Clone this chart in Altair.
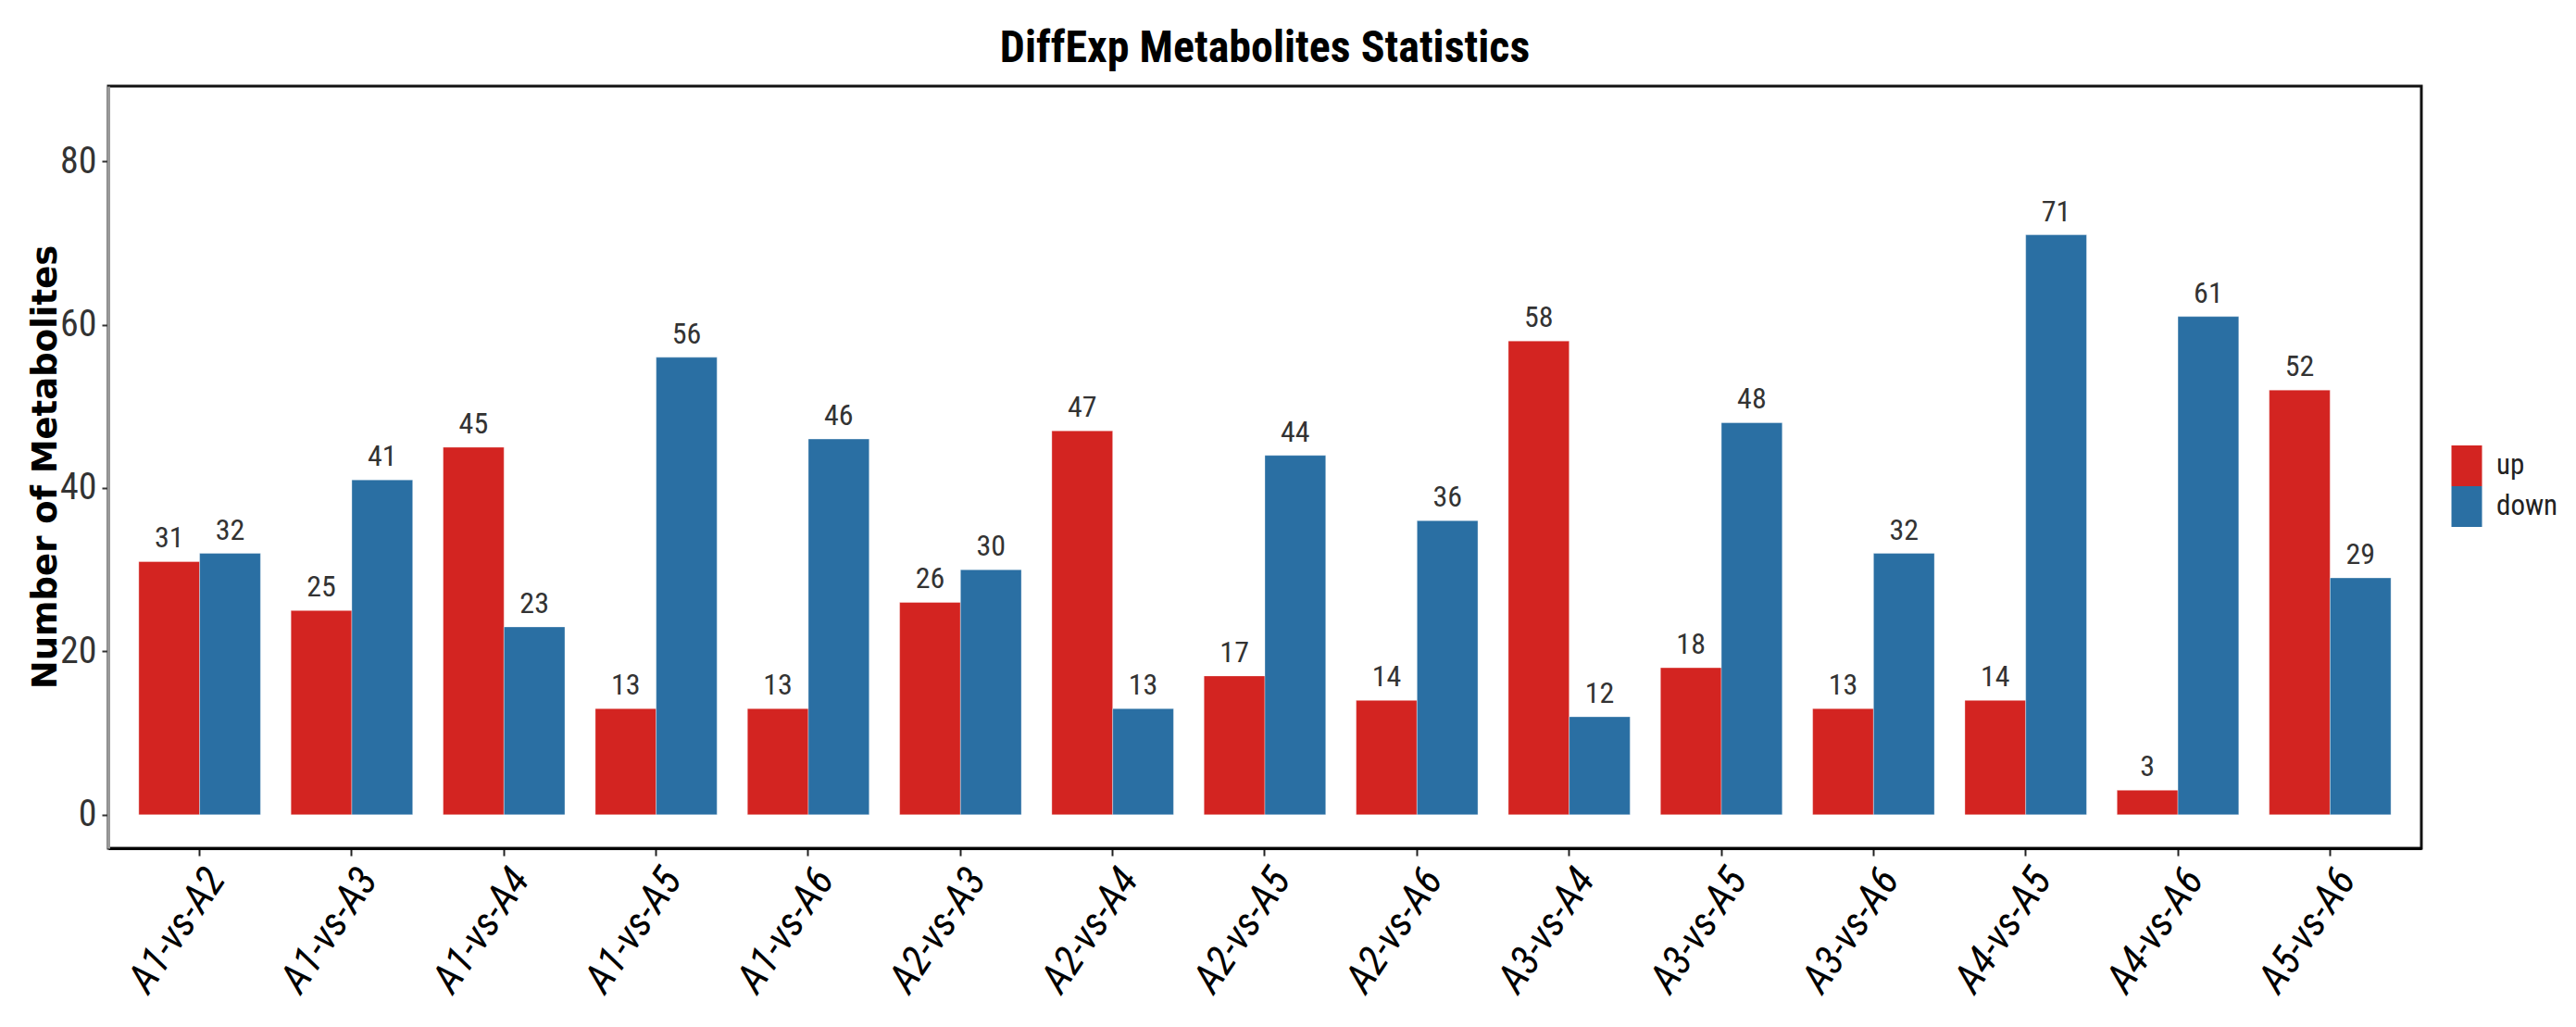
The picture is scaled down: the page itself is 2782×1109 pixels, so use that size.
import altair as alt
import pandas as pd

comparisons = ["A1-vs-A2", "A1-vs-A3", "A1-vs-A4", "A1-vs-A5", "A1-vs-A6",
               "A2-vs-A3", "A2-vs-A4", "A2-vs-A5", "A2-vs-A6", "A3-vs-A4",
               "A3-vs-A5", "A3-vs-A6", "A4-vs-A5", "A4-vs-A6", "A5-vs-A6"]
up = [31, 25, 45, 13, 13, 26, 47, 17, 14, 58, 18, 13, 14, 3, 52]
down = [32, 41, 23, 56, 46, 30, 13, 44, 36, 12, 48, 32, 71, 61, 29]
groups = ["up", "down"]
colors = ["#D32421", "#2A6FA3"]
y_ticks = [0, 20, 40, 60, 80]

rows = []
for i, c in enumerate(comparisons):
    rows.append({"comparison": c, "type": "up", "value": up[i], "zero": 0})
    rows.append({"comparison": c, "type": "down", "value": down[i], "zero": 0})
df = pd.DataFrame(rows)

NARROW = "Liberation Sans Narrow, Arial Narrow, Roboto Condensed, Liberation Sans, sans-serif"

x_enc = alt.X("comparison:N", sort=comparisons,
              scale=alt.Scale(paddingInner=0.2, paddingOuter=0.2),
              axis=alt.Axis(title=None, labelAngle=-56, labelAlign="right",
                            labelBaseline="top", labelFont=NARROW,
                            labelFontStyle="italic", labelFontSize=44,
                            labelColor="#000", labelPadding=6,
                            domainColor="#000", domainWidth=3,
                            tickColor="#222", tickWidth=2, tickSize=8))
xoff = alt.XOffset("type:N", sort=groups, scale=alt.Scale(paddingInner=0, paddingOuter=0))
y_scale = alt.Scale(domain=[-4.1, 89.2], nice=False, zero=False)

bars = alt.Chart(df).mark_bar(stroke="#ffffff", strokeOpacity=0.35, strokeWidth=1).encode(
    x=x_enc,
    xOffset=xoff,
    y=alt.Y("value:Q", scale=y_scale,
            axis=alt.Axis(title="Number of Metabolites", values=y_ticks,
                          grid=False, labelFont=NARROW, labelFontSize=40,
                          labelColor="#333", labelPadding=6,
                          tickColor="#333", tickWidth=2, tickSize=7,
                          domainColor="#999", domainWidth=3,
                          titleFont="DejaVu Sans", titleFontWeight="bold",
                          titleFontSize=37, titleColor="#000",
                          titleX=-68, titleY=411, titleAngle=270,
                          titleAlign="center", titleBaseline="middle")),
    y2=alt.Y2("zero:Q"),
    color=alt.Color("type:N", sort=groups,
                    scale=alt.Scale(domain=groups, range=colors),
                    legend=alt.Legend(title=None, orient="none",
                                      legendX=2525, legendY=388,
                                      symbolType="M-0.75,-1H0.75V1H-0.75Z",
                                      symbolSize=1936, symbolStrokeWidth=0,
                                      symbolOpacity=1, rowPadding=0,
                                      labelFont=NARROW, labelFontSize=31,
                                      labelColor="#222", labelOffset=10,
                                      padding=0)),
)

labels = alt.Chart(df).mark_text(baseline="bottom", dy=-8, font=NARROW,
                                 fontSize=32, color="#333").encode(
    x=alt.X("comparison:N", sort=comparisons),
    xOffset=xoff,
    y=alt.Y("value:Q", scale=y_scale),
    text=alt.Text("value:Q"),
)

chart = alt.layer(bars, labels).properties(
    width=2498, height=823,
    background="white",
    title=alt.TitleParams("DiffExp Metabolites Statistics", font=NARROW,
                          fontSize=48, fontWeight="bold", color="#000",
                          anchor="middle", frame="group", offset=16),
    autosize=alt.AutoSizeParams(type="none"),
    padding={"left": 109, "top": 85, "right": 158, "bottom": 180},
).configure_view(stroke="#111", strokeWidth=3)

chart.save("out.html", embed_options={"renderer": "svg", "actions": False})
